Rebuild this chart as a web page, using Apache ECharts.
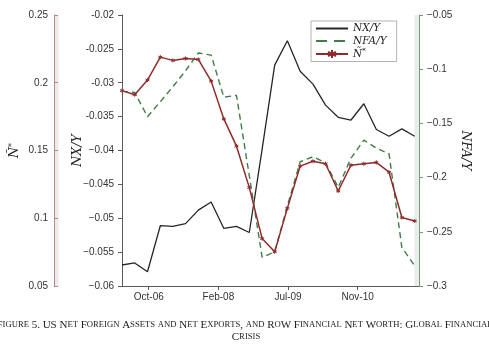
<!DOCTYPE html>
<html>
<head>
<meta charset="utf-8">
<script src="https://cdn.jsdelivr.net/npm/echarts@6/dist/echarts.min.js"></script>
<style>
  html, body { margin: 0; padding: 0; background: #fff; }
  #chart { width: 489px; height: 349px; }
</style>
</head>
<body>
<div id="chart"></div>
<script>
// Quarterly observations, 2006Q1 - 2011Q4
const quarters = [
  '2006Q1', '2006Q2', '2006Q3', '2006Q4', '2007Q1', '2007Q2', '2007Q3', '2007Q4',
  '2008Q1', '2008Q2', '2008Q3', '2008Q4', '2009Q1', '2009Q2', '2009Q3', '2009Q4',
  '2010Q1', '2010Q2', '2010Q3', '2010Q4', '2011Q1', '2011Q2', '2011Q3', '2011Q4'
];

// US net exports / GDP
const nxY = [
  -0.0569, -0.0566, -0.0579, -0.0511, -0.0512, -0.0508, -0.0488, -0.0476,
  -0.0515, -0.0512, -0.0521, -0.0398, -0.0274, -0.0238, -0.0283, -0.0302,
  -0.0333, -0.0351, -0.0355, -0.0331, -0.0369, -0.0379, -0.0368, -0.0379
];

// US net foreign assets / GDP
const nfaY = [
  -0.1205, -0.1214, -0.1438, -0.1300, -0.1162, -0.1015, -0.0850, -0.0870,
  -0.1258, -0.1241, -0.1985, -0.2736, -0.2685, -0.2262, -0.1854, -0.1808,
  -0.1863, -0.2090, -0.1820, -0.1655, -0.1728, -0.1780, -0.2645, -0.2813
];

// RoW financial net worth
const nStar = [
  0.1942, 0.1912, 0.2020, 0.2189, 0.2165, 0.2179, 0.2172, 0.2012,
  0.1733, 0.1532, 0.1226, 0.0850, 0.0752, 0.1073, 0.1385, 0.1421,
  0.1402, 0.1201, 0.1392, 0.1402, 0.1412, 0.1340, 0.1005, 0.0980
];

// Axis ticks
const dateTicks = ['2006-10-09', '2008-02-21', '2009-07-05', '2010-11-17'];
const dateTickLabels = ['Oct-06', 'Feb-08', 'Jul-09', 'Nov-10'];
const nxTickLabels = ['\u22120.06', '\u22120.055', '\u22120.05', '\u22120.045', '\u22120.04', '-0.035', '-0.03', '-0.025', '-0.02'];
const nfaTickLabels = ['\u22120.3', '\u22120.25', '\u22120.2', '\u22120.15', '\u22120.1', '\u22120.05'];
const nStarTickLabels = ['0.05', '0.1', '0.15', '0.2', '0.25'];

const captionLines = [
  'Figure 5. US Net Foreign Assets and Net Exports, and RoW Financial Net Worth: Global Financial',
  'Crisis'
];

// ---- helpers ----
const DAY = 86400000;
function quarterEndDay(q) {
  const y = +q.slice(0, 4), n = +q.slice(5);
  return Date.UTC(y, 3 * n, 0) / DAY;
}
function dayOf(iso) {
  const [y, m, d] = iso.split('-').map(Number);
  return Date.UTC(y, m - 1, d) / DAY;
}
const xDays = quarters.map(quarterEndDay);
const tickDays = dateTicks.map(dayOf);

function pairs(vals) { return vals.map((v, i) => [xDays[i], v]); }
function labelFrom(list, min, step) {
  return v => list[Math.round((v - min) / step)] || '';
}
// Small-caps rendering as rich text
function smallCaps(str) {
  let out = '';
  for (const ch of str) {
    if (ch >= 'a' && ch <= 'z') out += '{s|' + ch.toUpperCase() + '}';
    else out += '{b|' + ch + '}';
  }
  return out;
}

const RED = '#8e2c2c', GREEN = '#3f7d48', BLACK = '#262626';
const tickFont = { fontFamily: 'Liberation Sans', fontSize: 10, color: '#333' };
const mathFont = { fontFamily: 'DejaVu Serif', fontStyle: 'italic', color: '#222' };
const asterisk = 'path://M5 0L5 10M0.67 2.5L9.33 7.5M0.67 7.5L9.33 2.5';
const captionRich = {
  b: { fontFamily: 'Liberation Serif', fontSize: 11, fill: '#222' },
  s: { fontFamily: 'Liberation Serif', fontSize: 8.65, fill: '#222' }
};

const chart = echarts.init(document.getElementById('chart'), null, { renderer: 'canvas' });

chart.setOption({
  animation: false,
  backgroundColor: '#fff',
  grid: { left: 122, right: 70, top: 15, bottom: 63, containLabel: false },
  xAxis: {
    type: 'value',
    min: xDays[0],
    max: xDays[xDays.length - 1] + 31,
    splitLine: { show: false },
    axisLine: { onZero: false, lineStyle: { color: '#5a5a5a', width: 1 } },
    axisTick: { customValues: tickDays, length: 4, lineStyle: { color: '#5a5a5a' } },
    axisLabel: {
      customValues: tickDays,
      margin: 6,
      ...tickFont,
      formatter: v => dateTickLabels[tickDays.indexOf(v)] || ''
    }
  },
  yAxis: [
    {
      type: 'value', position: 'left',
      min: -0.06, max: -0.02, interval: 0.005,
      name: 'NX/Y', nameLocation: 'middle', nameGap: 38, nameRotate: 90, nameMoveOverlap: false,
      nameTextStyle: { ...mathFont, fontSize: 12.5 },
      splitLine: { show: false },
      axisLine: { show: true, onZero: false, lineStyle: { color: '#5a5a5a', width: 1 } },
      axisTick: { show: true, length: 4, lineStyle: { color: '#5a5a5a' } },
      axisLabel: { margin: 8, ...tickFont, formatter: labelFrom(nxTickLabels, -0.06, 0.005) }
    },
    {
      type: 'value', position: 'right',
      min: -0.3, max: -0.05, interval: 0.05,
      name: 'NFA/Y', nameLocation: 'middle', nameGap: 40, nameRotate: -90, nameMoveOverlap: false,
      nameTextStyle: { ...mathFont, fontSize: 12.5 },
      splitLine: { show: false },
      axisLine: { show: true, onZero: false, lineStyle: { color: '#6f9c73', width: 1 } },
      axisTick: { show: true, length: 4, lineStyle: { color: '#6f9c73' } },
      axisLabel: { margin: 8, ...tickFont, formatter: labelFrom(nfaTickLabels, -0.3, 0.05) }
    },
    {
      type: 'value', position: 'left', offset: 68,
      min: 0.05, max: 0.25, interval: 0.05,
      name: 'Ñ{s|*}', nameLocation: 'middle', nameGap: 32, nameRotate: 90, nameMoveOverlap: false,
      nameTextStyle: { ...mathFont, fontSize: 12.5, rich: { s: { ...mathFont, fontSize: 8, padding: [0, 0, 6, 0] } } },
      splitLine: { show: false },
      axisLine: { show: true, onZero: false, lineStyle: { color: '#bb8585', width: 1 } },
      axisTick: { show: true, inside: true, length: 4, lineStyle: { color: '#bb8585' } },
      axisLabel: { margin: 6, ...tickFont, formatter: labelFrom(nStarTickLabels, 0.05, 0.05) }
    }
  ],
  legend: {
    orient: 'vertical',
    left: 311, top: 21,
    padding: [2, 10, 2, 4],
    itemWidth: 32, itemHeight: 10, itemGap: 1.5,
    borderColor: '#a0a0a0', borderWidth: 0.8,
    backgroundColor: '#fff',
    selectedMode: false,
    textStyle: { ...mathFont, fontSize: 10.5, rich: { s: { ...mathFont, fontSize: 7, padding: [0, 0, 5, 0] } } },
    formatter: n => n === 'Ñ*' ? 'Ñ{s|*}' : n,
    data: [
      { name: 'NX/Y', itemStyle: { opacity: 0 } },
      { name: 'NFA/Y', itemStyle: { opacity: 0 }, lineStyle: { type: [11, 7] } },
      { name: 'Ñ*' }
    ]
  },
  graphic: [
    { type: 'rect', z: 0, shape: { x: 54.5, y: 15, width: 4, height: 271 }, style: { fill: '#ebebee' } },
    { type: 'rect', z: 0, shape: { x: 414.5, y: 15, width: 4.3, height: 271 }, style: { fill: '#ebebee' } },
    {
      type: 'text', x: 244.5, y: 325,
      style: { text: smallCaps(captionLines[0]), align: 'center', verticalAlign: 'middle', rich: captionRich }
    },
    {
      type: 'text', x: 246, y: 337,
      style: { text: smallCaps(captionLines[1]), align: 'center', verticalAlign: 'middle', rich: captionRich }
    }
  ],
  series: [
    {
      name: 'NX/Y', type: 'line', yAxisIndex: 0,
      data: pairs(nxY),
      symbol: 'none',
      lineStyle: { color: BLACK, width: 1.3 },
      itemStyle: { color: BLACK },
      z: 3
    },
    {
      name: 'NFA/Y', type: 'line', yAxisIndex: 1,
      data: pairs(nfaY),
      symbol: 'none',
      lineStyle: { color: GREEN, width: 1.4, type: [6, 4] },
      itemStyle: { color: GREEN },
      z: 3
    },
    {
      name: 'Ñ*', type: 'line', yAxisIndex: 2,
      data: pairs(nStar),
      symbol: asterisk, symbolSize: 4,
      lineStyle: { color: RED, width: 1.5 },
      itemStyle: { color: RED, borderColor: RED, borderWidth: 1 },
      z: 4
    }
  ]
});
</script>
</body>
</html>
